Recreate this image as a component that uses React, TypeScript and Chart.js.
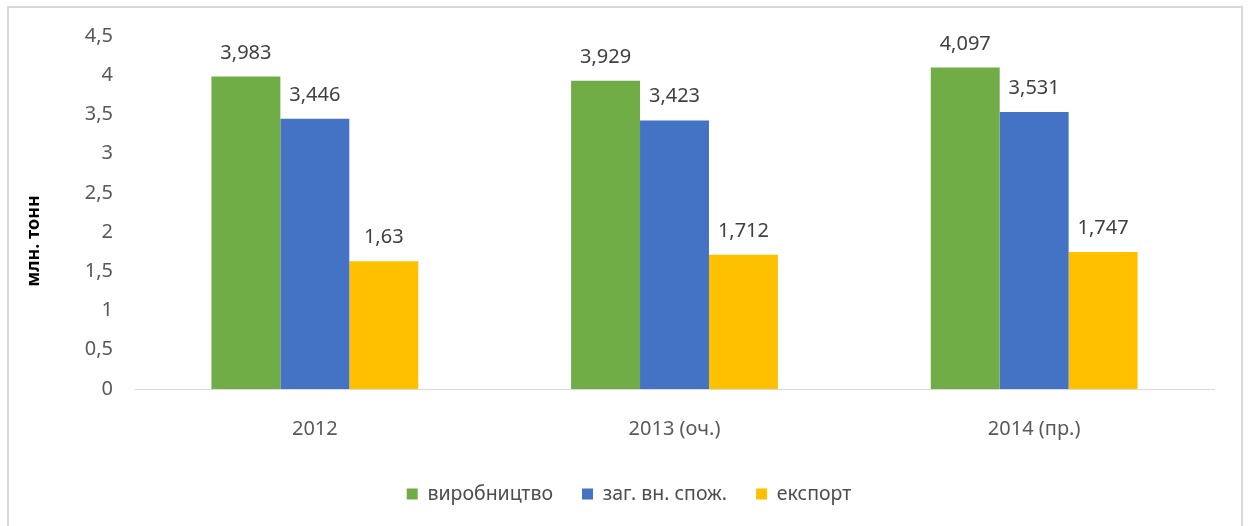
import React, { useEffect, useRef } from 'react';
import { Chart, registerables } from 'chart.js';

Chart.register(...registerables);

const categories = ['2012', '2013 (оч.)', '2014 (пр.)'];
const seriesNames = ['виробництво', 'заг. вн. спож.', 'експорт'];
const production = [3.983, 3.929, 4.097];
const consumption = [3.446, 3.423, 3.531];
const exportValues = [1.63, 1.712, 1.747];
const seriesColors = ['#70ad47', '#4472c4', '#ffc000'];
const yMin = 0;
const yMax = 4.5;
const yStep = 0.5;
const yAxisTitle = 'млн. тонн';

const fmt = (v: number) => String(v).replace('.', ',');
const FONT = "'Noto Sans', 'DejaVu Sans', sans-serif";

const labelPlugin = {
  id: 'valueLabels',
  afterLayout(chart: any) {
    if (chart.legend) {
      chart.legend.left += 22;
      chart.legend.right += 22;
    }
  },
  afterDatasetsDraw(chart: any) {
    const ctx = chart.ctx;
    ctx.save();
    ctx.font = `20px ${FONT}`;
    ctx.fillStyle = '#404040';
    ctx.textAlign = 'center';
    ctx.textBaseline = 'alphabetic';
    chart.data.datasets.forEach((ds: any, i: number) => {
      const meta = chart.getDatasetMeta(i);
      meta.data.forEach((el: any, j: number) => {
        ctx.fillText(fmt(ds.data[j]), el.x, el.y - 18);
      });
    });
    // axis title
    ctx.font = `bold 18px ${FONT}`;
    ctx.fillStyle = '#000000';
    ctx.translate(34, 241);
    ctx.rotate(-Math.PI / 2);
    ctx.textAlign = 'center';
    ctx.textBaseline = 'middle';
    ctx.fillText(yAxisTitle, 0, 0);
    ctx.restore();
  },
};

export default function App() {
  const ref = useRef<HTMLCanvasElement>(null);
  useEffect(() => {
    if (!ref.current) return;
    const chart = new Chart(ref.current, {
      type: 'bar',
      data: {
        labels: categories,
        datasets: [production, consumption, exportValues].map((d, i) => ({
          label: seriesNames[i],
          data: d,
          backgroundColor: seriesColors[i],
          borderWidth: 0,
          categoryPercentage: 0.575,
          barPercentage: 1,
        })),
      },
      options: {
        responsive: false,
        animation: false,
        layout: { padding: { left: 0, right: 34, top: 36, bottom: 12.25 } },
        plugins: {
          tooltip: { enabled: false },
          legend: {
            position: 'bottom',
            labels: {
              boxWidth: 11,
              boxHeight: 11,
              padding: 29,
              color: '#4d4d4d',
              font: { family: FONT, size: 19.5 },
            },
          },
        },
        scales: {
          x: {
            grid: { display: false, drawTicks: false },
            border: { display: true, color: '#d9d9d9', width: 1 },
            ticks: { color: '#595959', font: { family: FONT, size: 20 }, padding: 28, maxRotation: 0 },
            afterFit: (s: any) => { s.height = 66.25; },
          },
          y: {
            min: yMin,
            max: yMax,
            grid: { display: false, drawTicks: false },
            border: { display: false },
            ticks: {
              stepSize: yStep,
              color: '#595959',
              font: { family: FONT, size: 20 },
              padding: 22,
              callback: (v: any) => fmt(Number(v)),
            },
            afterFit: (s: any) => { s.width = 135; },
          },
        },
      },
      plugins: [labelPlugin],
    });
    return () => chart.destroy();
  }, []);
  return (
    <div style={{ position: 'fixed', left: 0, top: 0, width: 1248, height: 526, overflow: 'hidden', background: '#fff' }}>
      <div style={{ position: 'absolute', left: 7, top: 6, width: 1236, height: 560, border: '2px solid #d9d9d9', boxSizing: 'border-box' }} />
      <canvas ref={ref} width={1248} height={526} style={{ position: 'absolute', left: 0, top: 0, display: 'block' }} />
    </div>
  );
}
